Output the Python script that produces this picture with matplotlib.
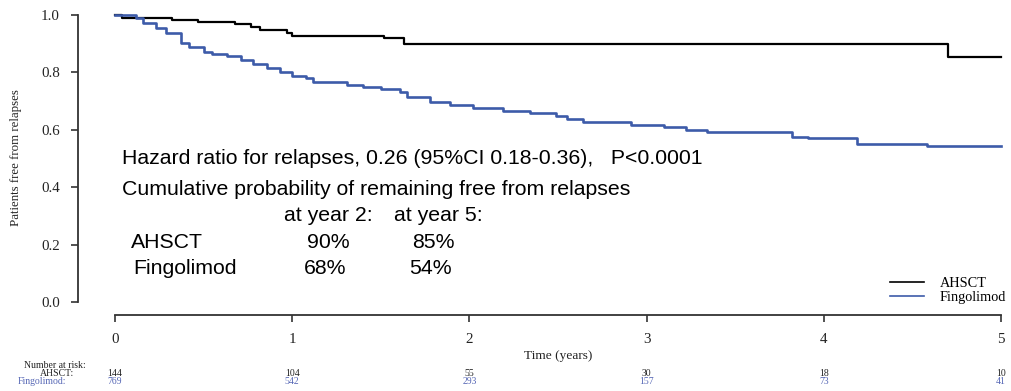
import matplotlib
matplotlib.use("Agg")
import matplotlib.pyplot as plt
import matplotlib.transforms as mtransforms

# Kaplan-Meier curves (time in years, survival)
ahsct_t = [0, 0.04, 0.32, 0.47, 0.68, 0.77, 0.82, 0.97, 1.0, 1.52, 1.63, 4.70, 5.0]
ahsct_s = [1.0, 0.99, 0.983, 0.974, 0.968, 0.959, 0.948, 0.938, 0.927, 0.919, 0.899, 0.854, 0.854]

fingo_t = [0, 0.12, 0.16, 0.23, 0.29, 0.37, 0.42, 0.50, 0.55, 0.63, 0.71, 0.78, 0.86,
           0.93, 1.00, 1.08, 1.12, 1.31, 1.40, 1.50, 1.61, 1.65, 1.78, 1.89, 2.02,
           2.19, 2.34, 2.49, 2.55, 2.64, 2.83, 2.91, 3.10, 3.22, 3.34, 3.82, 3.91,
           4.19, 4.58, 5.0]
fingo_s = [1.0, 0.988, 0.971, 0.954, 0.936, 0.901, 0.890, 0.872, 0.863, 0.858, 0.843,
           0.828, 0.814, 0.802, 0.789, 0.782, 0.765, 0.756, 0.750, 0.742, 0.733, 0.715,
           0.698, 0.686, 0.675, 0.666, 0.657, 0.649, 0.638, 0.628, 0.626, 0.617, 0.611,
           0.599, 0.591, 0.576, 0.570, 0.552, 0.545, 0.545]

risk_times = [0, 1, 2, 3, 4, 5]
risk_ahsct = [144, 104, 55, 30, 18, 10]
risk_fingo = [769, 542, 293, 157, 73, 41]

blue = "#3d5ba9"
risk_blue = "#5566b5"
serif = ["Liberation Serif", "DejaVu Serif"]
sans = ["Liberation Sans", "DejaVu Sans"]

W, H = 1011, 391
fig = plt.figure(figsize=(W / 100, H / 100), dpi=100)
ax = fig.add_axes([115 / W, 1 - 302 / H, (1001 - 115) / W, (302 - 15) / H])

ax.step(ahsct_t, ahsct_s, where="post", color="black", lw=1.6, label="AHSCT", clip_on=False)
ax.step(fingo_t, fingo_s, where="post", color=blue, lw=1.9, label="Fingolimod", clip_on=False)

ax.set_xlim(0, 5)
ax.set_ylim(0, 1)
for s in ["top", "right"]:
    ax.spines[s].set_visible(False)
ax.spines["left"].set_position(("outward", 37 * 0.72))
ax.spines["bottom"].set_position(("outward", 13 * 0.72))
ax.spines["left"].set_bounds(0, 1)
ax.spines["bottom"].set_bounds(0, 5)
for s in ["left", "bottom"]:
    ax.spines[s].set_color("#333333")
    ax.spines[s].set_linewidth(1.3)

ax.set_xticks(risk_times)
ax.set_yticks([0, 0.2, 0.4, 0.6, 0.8, 1.0])
ax.set_yticklabels(["0.0", "0.2", "0.4", "0.6", "0.8", "1.0"])
ax.tick_params(axis="both", length=5, width=1.2, color="#333333", labelsize=10.8)
ax.tick_params(axis="x", pad=8)
ax.tick_params(axis="y", pad=8)
for lab in ax.get_xticklabels() + ax.get_yticklabels():
    lab.set_family(serif)
    lab.set_color("#222222")

fig.text(16 / W, 1 - 158 / H, "Patients free from relapses", rotation=90, ha="center",
         va="center", family=serif, fontsize=9.3, color="#222222")
fig.text(558 / W, 1 - 356 / H, "Time (years)", ha="center", va="center",
         family=serif, fontsize=9.6, color="#222222")

# number at risk table
trans = mtransforms.blended_transform_factory(ax.transData, fig.transFigure)
fig.text(55 / W, 1 - 366 / H, "Number at risk:", ha="center", va="center",
         family=serif, fontsize=7, color="#222222")
fig.text(57 / W, 1 - 374 / H, "AHSCT:", ha="center", va="center",
         family=serif, fontsize=7, color="#222222")
fig.text(42 / W, 1 - 381 / H, "Fingolimod:", ha="center", va="center",
         family=serif, fontsize=7, color=risk_blue)
for t, a, f in zip(risk_times, risk_ahsct, risk_fingo):
    ax.text(t, 1 - 374 / H, str(a), transform=trans, ha="center", va="center",
            family=serif, fontsize=7, color="#222222")
    ax.text(t, 1 - 381 / H, str(f), transform=trans, ha="center", va="center",
            family=serif, fontsize=7, color=risk_blue)

# annotation block
fs = 15.3
def put(x, y, s):
    fig.text(x / W, 1 - y / H, s, ha="left", va="center", family=sans, fontsize=fs, color="black")

put(122, 158, "Hazard ratio for relapses, 0.26 (95%CI 0.18-0.36),   P<0.0001")
put(122, 190, "Cumulative probability of remaining free from relapses")
put(284, 216, "at year 2:")
put(394, 216, "at year 5:")
put(131, 242, "AHSCT")
put(307, 242, "90%")
put(412, 242, "85%")
put(133, 268, "Fingolimod")
put(304, 268, "68%")
put(409, 268, "54%")

leg = ax.legend(loc="lower right", bbox_to_anchor=(1012 / W, 1 - 310 / H),
                bbox_transform=fig.transFigure, frameon=False,
                prop={"family": serif, "size": 10.3}, handlelength=2.4,
                labelspacing=0.1, handletextpad=1.1, borderaxespad=0)
for line in leg.get_lines():
    line.set_linewidth(1.2)

fig.savefig("out.png", dpi=100)
